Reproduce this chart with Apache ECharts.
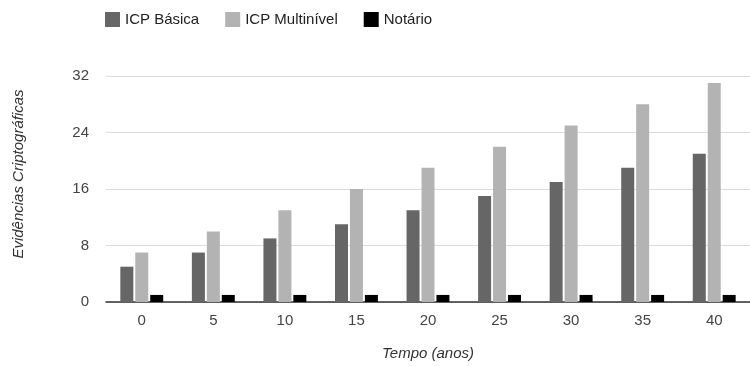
<!DOCTYPE html>
<html><head><meta charset="utf-8">
<script src="https://cdn.jsdelivr.net/npm/echarts@6/dist/echarts.min.js"></script>
<style>html,body{margin:0;padding:0;background:#fff}#c{width:750px;height:366px}</style>
</head><body><div id="c"></div>
<script>
var categories = ['0','5','10','15','20','25','30','35','40'];
var icpBasica = [5,7,9,11,13,15,17,19,21];
var icpMulti = [7,10,13,16,19,22,25,28,31];
var notario = [1,1,1,1,1,1,1,1,1];
var seriesNames = ['ICP Básica','ICP Multinível','Notário'];
var yTicks = {min:0, max:32, interval:8};

var font = 'Arial, "Liberation Sans", sans-serif';
var chart = echarts.init(document.getElementById('c'));
chart.setOption({
  animation:false,
  textStyle:{fontFamily:font},
  legend:{
    left:105, top:12, padding:0, itemWidth:15, itemHeight:15, itemGap:26,
    icon:'rect',
    textStyle:{fontSize:15, color:'#222', fontFamily:font},
    data:seriesNames
  },
  grid:{left:106, top:76, width:648, height:229},
  xAxis:{
    type:'category', data:categories, boundaryGap:true,
    axisLine:{lineStyle:{color:'#333', width:1.5}},
    axisTick:{show:false},
    axisLabel:{fontSize:15, color:'#444', margin:11, fontFamily:font},
    name:'Tempo (anos)', nameLocation:'middle', nameGap:44,
    nameTextStyle:{fontSize:15, fontStyle:'italic', color:'#333', fontFamily:font}
  },
  yAxis:{
    type:'value', min:yTicks.min, max:yTicks.max, interval:yTicks.interval,
    axisLine:{show:false}, axisTick:{show:false},
    splitLine:{lineStyle:{color:'#dcdcdc', width:1}},
    axisLabel:{fontSize:15, color:'#444', margin:17, fontFamily:font},
    name:'Evidências Criptográficas', nameLocation:'middle', nameGap:80,
    nameTextStyle:{fontSize:15, fontStyle:'italic', color:'#333', fontFamily:font, padding:[0,0,0,30]}
  },
  series:[
    {name:seriesNames[0], type:'bar', data:icpBasica, barWidth:13, barGap:'15%', itemStyle:{color:'#666666'}},
    {name:seriesNames[1], type:'bar', data:icpMulti, barWidth:13, barGap:'15%', itemStyle:{color:'#b3b3b3'}},
    {name:seriesNames[2], type:'bar', data:notario, barWidth:13, barGap:'15%', itemStyle:{color:'#000000'}}
  ]
});
</script></body></html>
